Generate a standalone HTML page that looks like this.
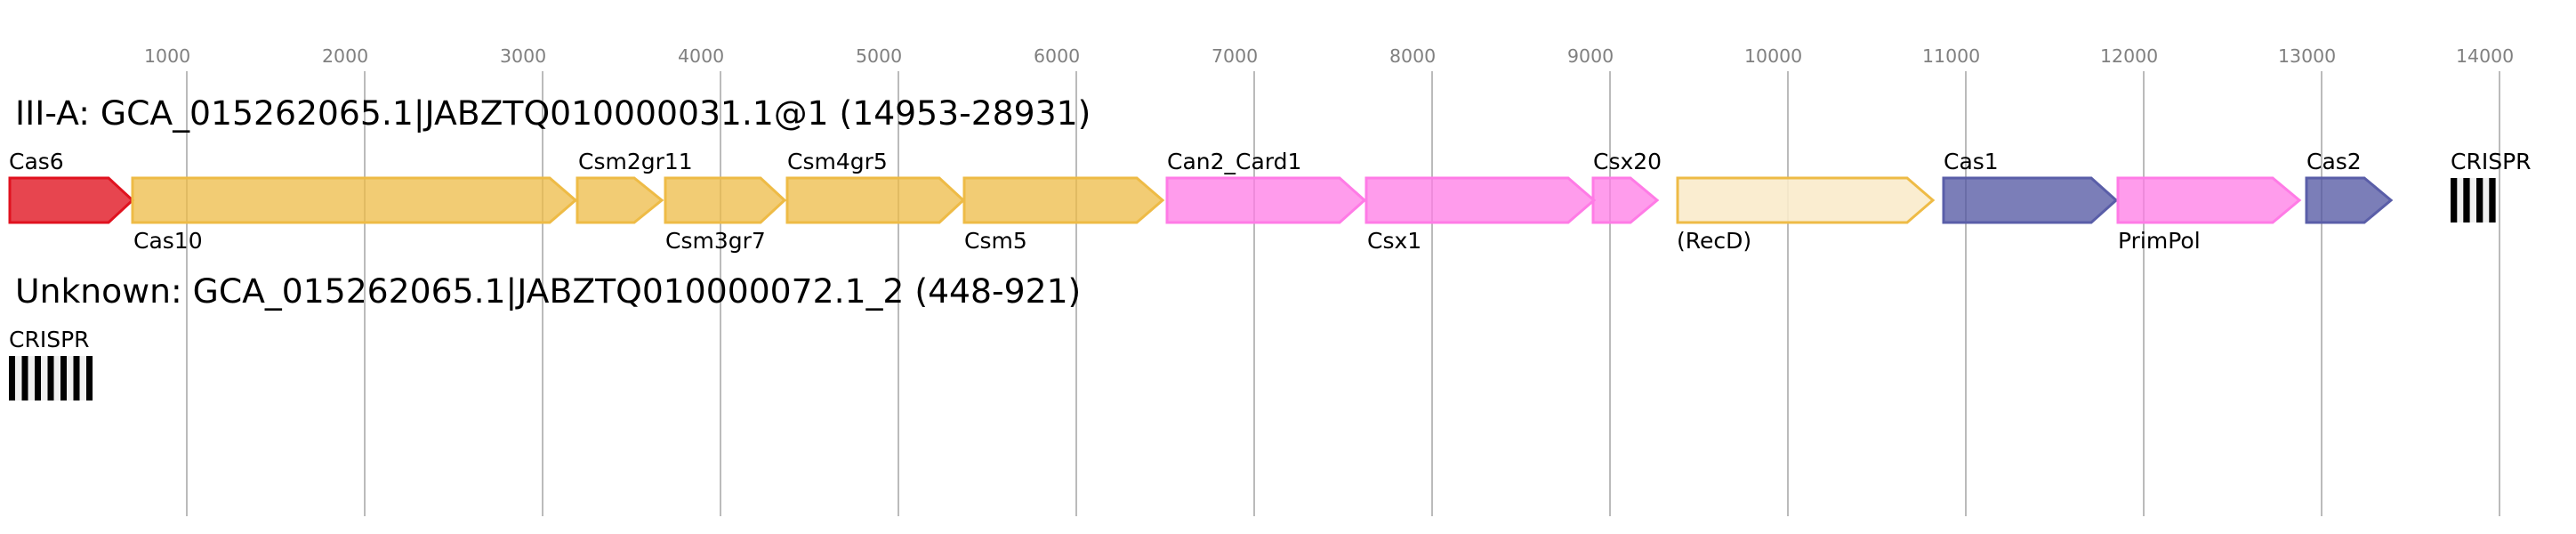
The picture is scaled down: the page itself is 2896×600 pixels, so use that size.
<!DOCTYPE html>
<html><head><meta charset="utf-8"><style>
html,body{margin:0;padding:0;background:#fff;}
svg{display:block;}
text{font-family:"DejaVu Sans","Liberation Sans",sans-serif;}
</style></head><body>
<svg width="2896" height="600" viewBox="0 0 2896 600" xmlns="http://www.w3.org/2000/svg">
<rect width="2896" height="600" fill="#fff"/>
<g stroke="#bbbbbb" stroke-width="2">
<line x1="210" y1="80" x2="210" y2="580"/><line x1="410" y1="80" x2="410" y2="580"/>
<line x1="610" y1="80" x2="610" y2="580"/><line x1="810" y1="80" x2="810" y2="580"/>
<line x1="1010" y1="80" x2="1010" y2="580"/><line x1="1210" y1="80" x2="1210" y2="580"/>
<line x1="1410" y1="80" x2="1410" y2="580"/><line x1="1610" y1="80" x2="1610" y2="580"/>
<line x1="1810" y1="80" x2="1810" y2="580"/><line x1="2010" y1="80" x2="2010" y2="580"/>
<line x1="2210" y1="80" x2="2210" y2="580"/><line x1="2410" y1="80" x2="2410" y2="580"/>
<line x1="2610" y1="80" x2="2610" y2="580"/><line x1="2810" y1="80" x2="2810" y2="580"/>
</g>
<g fill="#808080" font-size="20.5">
<text x="162" y="70">1000</text><text x="362" y="70">2000</text><text x="562" y="70">3000</text>
<text x="762" y="70">4000</text><text x="962" y="70">5000</text><text x="1162" y="70">6000</text>
<text x="1362" y="70">7000</text><text x="1562" y="70">8000</text><text x="1762" y="70">9000</text>
<text x="1961" y="70">10000</text><text x="2161" y="70">11000</text><text x="2361" y="70">12000</text>
<text x="2561" y="70">13000</text><text x="2761" y="70">14000</text>
</g>
<text x="17" y="140" font-size="37.7" fill="#000">III-A: GCA_015262065.1|JABZTQ010000031.1@1 (14953-28931)</text>
<g stroke-width="3" stroke-linejoin="miter">
<polygon points="11,200 122,200 149,225 122,250 11,250" fill="#df0a18" fill-opacity="0.76" stroke="#e0121f"/>
<polygon points="149,200 618,200 647,225 618,250 149,250" fill="#eebb46" fill-opacity="0.75" stroke="#eebb46"/>
<polygon points="649,200 713,200 744,225 713,250 649,250" fill="#eebb46" fill-opacity="0.75" stroke="#eebb46"/>
<polygon points="748,200 855,200 882,225 855,250 748,250" fill="#eebb46" fill-opacity="0.75" stroke="#eebb46"/>
<polygon points="885,200 1056,200 1083,225 1056,250 885,250" fill="#eebb46" fill-opacity="0.75" stroke="#eebb46"/>
<polygon points="1084,200 1278,200 1307,225 1278,250 1084,250" fill="#eebb46" fill-opacity="0.75" stroke="#eebb46"/>
<polygon points="1312,200 1506,200 1534,225 1506,250 1312,250" fill="#ff7be6" fill-opacity="0.75" stroke="#ff7be6"/>
<polygon points="1536,200 1763,200 1792,225 1763,250 1536,250" fill="#ff7be6" fill-opacity="0.75" stroke="#ff7be6"/>
<polygon points="1791,200 1833,200 1863,225 1833,250 1791,250" fill="#ff7be6" fill-opacity="0.75" stroke="#ff7be6"/>
<polygon points="1886,200 2144,200 2173,225 2144,250 1886,250" fill="#faebcb" fill-opacity="0.9" stroke="#eebb46"/>
<polygon points="2185,200 2351,200 2379,225 2351,250 2185,250" fill="#4f53a0" fill-opacity="0.75" stroke="#5a5ea8"/>
<polygon points="2381,200 2555,200 2585,225 2555,250 2381,250" fill="#ff7be6" fill-opacity="0.75" stroke="#ff7be6"/>
<polygon points="2593,200 2658,200 2688,225 2658,250 2593,250" fill="#4f53a0" fill-opacity="0.75" stroke="#5a5ea8"/>
</g>
<g font-size="25" fill="#000">
<text x="10" y="190">Cas6</text>
<text x="150" y="279">Cas10</text>
<text x="650" y="190">Csm2gr11</text>
<text x="748" y="279">Csm3gr7</text>
<text x="885" y="190">Csm4gr5</text>
<text x="1084" y="279">Csm5</text>
<text x="1312" y="190">Can2_Card1</text>
<text x="1537" y="279">Csx1</text>
<text x="1791" y="190">Csx20</text>
<text x="1885" y="279">(RecD)</text>
<text x="2185" y="190">Cas1</text>
<text x="2381" y="279">PrimPol</text>
<text x="2593" y="190">Cas2</text>
<text x="2755" y="190">CRISPR</text>
</g>
<rect x="2755" y="200" width="51" height="50" fill="#f0f0f0"/>
<g fill="#000">
<rect x="2755" y="200" width="7.3" height="50"/><rect x="2769.3" y="200" width="7.3" height="50"/>
<rect x="2784" y="200" width="7.3" height="50"/><rect x="2798.3" y="200" width="7.3" height="50"/>
</g>
<text x="17" y="340" font-size="37.7" fill="#000">Unknown: GCA_015262065.1|JABZTQ010000072.1_2 (448-921)</text>
<text x="10" y="390" font-size="25" fill="#000">CRISPR</text>
<rect x="10" y="400" width="95" height="50" fill="#f0f0f0"/>
<g fill="#000">
<rect x="10" y="400" width="7" height="50"/><rect x="24.5" y="400" width="7" height="50"/>
<rect x="39" y="400" width="7" height="50"/><rect x="53.5" y="400" width="7" height="50"/>
<rect x="68" y="400" width="7" height="50"/><rect x="82.5" y="400" width="7" height="50"/>
<rect x="97" y="400" width="7" height="50"/>
</g>
</svg>
</body></html>
